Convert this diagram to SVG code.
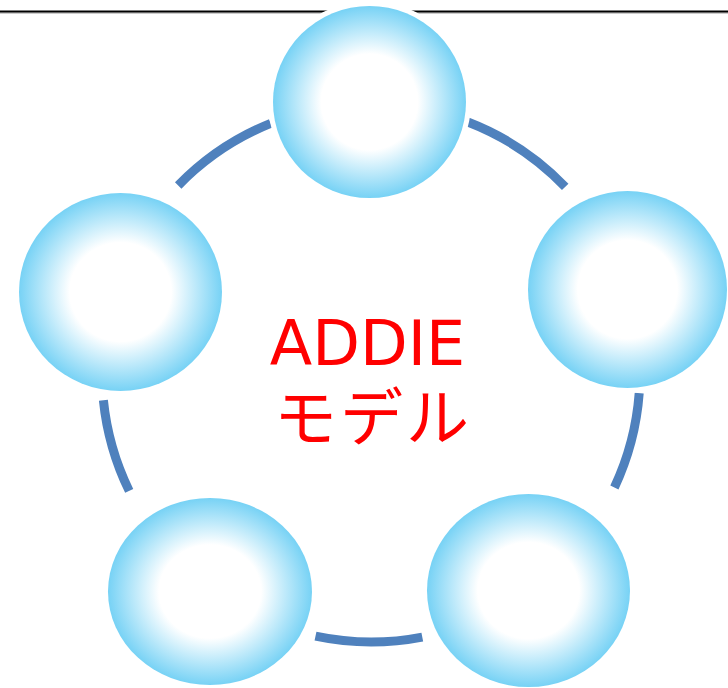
<svg xmlns="http://www.w3.org/2000/svg" width="728" height="688" viewBox="0 0 728 688">
  <defs>
    <radialGradient id="bubble" cx="50%" cy="50%" r="50%">
      <stop offset="0%" stop-color="#FFFFFF"/>
      <stop offset="50%" stop-color="#FFFFFF"/>
      <stop offset="100%" stop-color="#77D2F5"/>
    </radialGradient>
  </defs>
  <style>
    .rule { stroke: #000000; stroke-width: 2; }
    .shadow { stroke: #9A9A9A; stroke-width: 1; }
    .arc { fill: none; stroke: #4F81BD; stroke-width: 9; stroke-linecap: butt; }
    .halo { fill: #FFFFFF; stroke: #FFFFFF; stroke-width: 10; }
    .bubble { fill: url(#bubble); }
    .title { fill: #FF0000; text-anchor: middle; }
    .latin { font-family: "DejaVu Sans", "Noto Sans CJK JP", sans-serif; }
    .jp { font-family: "Noto Sans CJK JP", sans-serif; letter-spacing: 3px; }
  </style>

  <rect width="728" height="688" fill="#FFFFFF"/>

  <g id="top-rule">
    <line class="shadow" x1="0" y1="13" x2="728" y2="13"/>
    <line class="rule" x1="0" y1="11.5" x2="728" y2="11.5"/>
  </g>

  <g id="connectors">
    <path class="arc" d="M178.2,185.5 A269,269 0 0 1 270.7,123.4"/>
    <path class="arc" d="M467.8,122 A269,269 0 0 1 565.2,186.8"/>
    <path class="arc" d="M639.2,393.2 A269,269 0 0 1 614.4,487.5"/>
    <path class="arc" d="M422.3,637.1 A269,269 0 0 1 315.5,636.2"/>
    <path class="arc" d="M129.2,490.9 A269,269 0 0 1 103.4,400.2"/>
  </g>

  <g id="node-top">
    <ellipse class="halo" cx="369.5" cy="102" rx="96.5" ry="96"/>
    <ellipse class="bubble" cx="369.5" cy="102" rx="96.5" ry="96"/>
  </g>
  <g id="node-right">
    <ellipse class="halo" cx="627.5" cy="289.5" rx="99.5" ry="98.5"/>
    <ellipse class="bubble" cx="627.5" cy="289.5" rx="99.5" ry="98.5"/>
  </g>
  <g id="node-bottom-right">
    <ellipse class="halo" cx="528.5" cy="590.5" rx="101.5" ry="96.5"/>
    <ellipse class="bubble" cx="528.5" cy="590.5" rx="101.5" ry="96.5"/>
  </g>
  <g id="node-bottom-left">
    <ellipse class="halo" cx="210" cy="591.5" rx="102" ry="93.5"/>
    <ellipse class="bubble" cx="210" cy="591.5" rx="102" ry="93.5"/>
  </g>
  <g id="node-left">
    <ellipse class="halo" cx="120.5" cy="292" rx="101.5" ry="99"/>
    <ellipse class="bubble" cx="120.5" cy="292" rx="101.5" ry="99"/>
  </g>

  <g id="center-label">
    <text class="title"><tspan class="latin" x="367.5" y="365" font-size="62">ADDIE</tspan><tspan class="jp" x="373" y="440" font-size="63">モデル</tspan></text>
  </g>
</svg>
